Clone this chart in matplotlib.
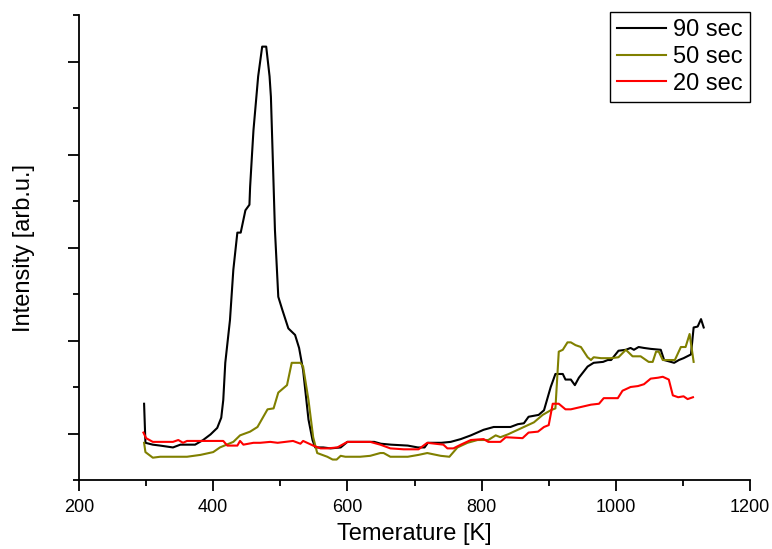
import matplotlib
matplotlib.use("Agg")
import matplotlib.pyplot as plt
from matplotlib.ticker import MultipleLocator, NullFormatter

plt.rcParams['font.family'] = ['Liberation Sans', 'DejaVu Sans']

# 90 sec
t90 = [297, 299, 310, 321, 340, 351, 373, 385, 396, 406, 412, 415, 418, 425, 430, 436, 441,
       448, 454, 455, 458, 460, 467, 473, 479, 484, 486, 489, 492, 497, 503, 512, 522, 528,
       534, 542, 548, 552, 564, 575, 590, 600, 620, 640, 650, 665, 690, 705, 715, 720, 740,
       754, 769, 784, 803, 818, 843, 854, 863, 870, 885, 893, 903, 910, 921, 925, 933, 939,
       945, 958, 967, 981, 988, 993, 1004, 1015, 1022, 1027, 1034, 1042, 1052, 1067, 1072,
       1087, 1094, 1101, 1112, 1116, 1122, 1127, 1131]
i90 = [0.82, 0.40, 0.38, 0.37, 0.35, 0.38, 0.38, 0.43, 0.49, 0.56, 0.67, 0.86, 1.26, 1.72,
       2.26, 2.66, 2.66, 2.90, 2.96, 3.15, 3.52, 3.76, 4.34, 4.66, 4.66, 4.34, 4.12, 3.41,
       2.69, 1.97, 1.83, 1.63, 1.56, 1.42, 1.18, 0.65, 0.43, 0.35, 0.35, 0.34, 0.35, 0.41,
       0.41, 0.41, 0.39, 0.38, 0.37, 0.35, 0.35, 0.40, 0.40, 0.41, 0.44, 0.48, 0.54, 0.57,
       0.57, 0.60, 0.61, 0.68, 0.70, 0.75, 1.00, 1.14, 1.14, 1.08, 1.08, 1.02, 1.10, 1.22,
       1.26, 1.27, 1.29, 1.29, 1.39, 1.40, 1.42, 1.40, 1.43, 1.42, 1.41, 1.40, 1.29, 1.26,
       1.29, 1.31, 1.35, 1.64, 1.65, 1.73, 1.64]

# 50 sec
t50 = [297, 299, 310, 321, 340, 361, 381, 400, 410, 430, 440, 455, 466, 481, 490, 497, 510,
       517, 530, 534, 542, 549, 555, 570, 578, 584, 590, 597, 619, 634, 649, 654, 664, 690,
       706, 719, 739, 752, 764, 779, 794, 810, 821, 828, 839, 848, 863, 878, 891, 903, 910,
       915, 921, 928, 933, 940, 948, 958, 963, 967, 978, 993, 1004, 1015, 1025, 1037, 1049,
       1055, 1060, 1064, 1070, 1082, 1088, 1097, 1104, 1110, 1116]
i50 = [0.40, 0.30, 0.24, 0.25, 0.25, 0.25, 0.27, 0.30, 0.35, 0.41, 0.48, 0.52, 0.57, 0.76,
       0.77, 0.94, 1.02, 1.26, 1.26, 1.22, 0.86, 0.46, 0.29, 0.25, 0.22, 0.22, 0.26, 0.25,
       0.25, 0.26, 0.29, 0.29, 0.25, 0.25, 0.27, 0.29, 0.26, 0.25, 0.35, 0.40, 0.43, 0.43,
       0.48, 0.46, 0.49, 0.52, 0.57, 0.62, 0.70, 0.75, 0.77, 1.38, 1.40, 1.48, 1.48, 1.45,
       1.43, 1.32, 1.29, 1.32, 1.31, 1.31, 1.32, 1.40, 1.33, 1.33, 1.27, 1.27, 1.38, 1.38,
       1.29, 1.29, 1.29, 1.43, 1.43, 1.57, 1.27]

# 20 sec
t20 = [296, 300, 310, 340, 348, 355, 361, 373, 385, 415, 421, 436, 440, 445, 460, 470, 485,
       496, 519, 530, 534, 549, 560, 570, 585, 600, 634, 649, 664, 684, 706, 719, 743, 749,
       758, 769, 784, 803, 810, 828, 836, 861, 870, 884, 893, 900, 906, 915, 925, 933, 945,
       963, 975, 982, 1003, 1010, 1022, 1033, 1042, 1052, 1063, 1070, 1079, 1085, 1093, 1101,
       1107, 1115]
i20 = [0.51, 0.45, 0.41, 0.41, 0.43, 0.40, 0.42, 0.42, 0.42, 0.42, 0.37, 0.37, 0.42, 0.38,
       0.40, 0.40, 0.41, 0.40, 0.42, 0.39, 0.42, 0.37, 0.34, 0.34, 0.35, 0.41, 0.41, 0.38,
       0.34, 0.33, 0.33, 0.40, 0.38, 0.34, 0.34, 0.38, 0.43, 0.44, 0.41, 0.41, 0.46, 0.45,
       0.51, 0.52, 0.57, 0.59, 0.82, 0.82, 0.76, 0.76, 0.78, 0.81, 0.82, 0.88, 0.88, 0.96,
       1.00, 1.01, 1.03, 1.09, 1.10, 1.11, 1.08, 0.91, 0.89, 0.90, 0.87, 0.89]

fig = plt.figure(figsize=(7.72, 5.49), dpi=100)
ax = fig.add_axes([79 / 772, 69 / 549, 671 / 772, 465 / 549])

ax.plot(t90, i90, color='black', lw=1.5, label='90 sec')
ax.plot(t50, i50, color='#808000', lw=1.5, label='50 sec')
ax.plot(t20, i20, color='#ff0000', lw=1.5, label='20 sec')

ax.set_xlim(200, 1200)
ax.set_ylim(0, 5)
ax.xaxis.set_major_locator(MultipleLocator(200))
ax.xaxis.set_minor_locator(MultipleLocator(100))
ax.yaxis.set_major_locator(MultipleLocator(1, offset=0.5))
ax.yaxis.set_minor_locator(MultipleLocator(1))
ax.yaxis.set_major_formatter(NullFormatter())
ax.tick_params(axis='both', which='major', length=8, width=1.3, direction='out')
ax.tick_params(axis='both', which='minor', length=4, width=1.3, direction='out')
ax.tick_params(axis='x', labelsize=13, pad=6)
ax.spines['top'].set_visible(False)
ax.spines['right'].set_visible(False)
ax.spines['left'].set_linewidth(1.3)
ax.spines['bottom'].set_linewidth(1.3)

ax.set_xlabel('Temerature [K]', fontsize=17, labelpad=5)
ax.set_ylabel('Intensity [arb.u.]', fontsize=17, labelpad=20)

leg = ax.legend(loc='upper right', bbox_to_anchor=(1.0, 1.007), fontsize=17,
                frameon=True, fancybox=False, framealpha=1, edgecolor='black',
                borderpad=0.32, handlelength=2.05, handletextpad=0.3, labelspacing=0.2,
                borderaxespad=0)
leg.get_frame().set_linewidth(1.0)

fig.savefig('out.png', dpi=100)
